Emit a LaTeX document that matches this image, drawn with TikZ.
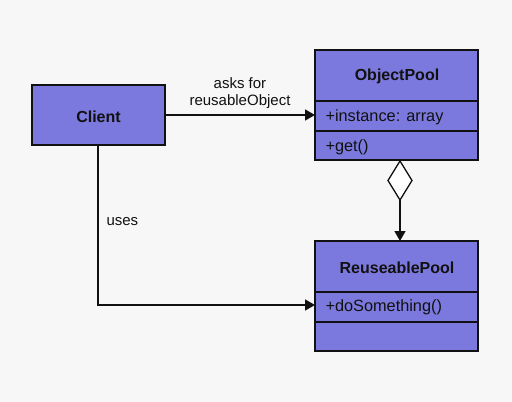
\documentclass[tikz,border=0pt]{standalone}
\usepackage{fontspec}
\setmainfont{Liberation Sans}
\usetikzlibrary{arrows.meta}
\definecolor{bg}{HTML}{F7F7F7}
\definecolor{boxfill}{HTML}{7B79DD}
\definecolor{ink}{HTML}{111111}
\begin{document}
\begin{tikzpicture}[x=1pt,y=-1pt,
  box/.style={draw=ink,line width=1.2pt,fill=boxfill},
  conn/.style={draw=ink,line width=1.7pt,-{Triangle[length=10pt,width=11pt]}},
  title/.style={font=\bfseries\fontsize{16}{18}\selectfont,text=ink},
  attr/.style={font=\fontsize{16.3}{18}\selectfont,text=ink,anchor=west},
  lbl/.style={font=\fontsize{15}{17}\selectfont,text=ink}]
\fill[bg] (0,0) rectangle (512,402);
\useasboundingbox (0,0) rectangle (512,402);
% Client
\draw[box] (32,85) rectangle (165,145);
\node[title] (client) at (98.5,116.5) {Client};
\coordinate (clientR) at (165,115);
\coordinate (clientB) at (98,145);
% ObjectPool
\draw[box] (315,50) rectangle (478,160);
\draw[ink,line width=1.2pt] (315,101) -- (478,101);
\draw[ink,line width=1.2pt] (315,131) -- (478,131);
\node[title] (op) at (397,76.5) {ObjectPool};
\node[attr] (opa) at (322,117) {+instance: array};
\node[attr] (opm) at (322,147) {+get()};
\coordinate (opL) at (315,115);
% ReuseablePool
\draw[box] (315,241) rectangle (478,351);
\draw[ink,line width=1.2pt] (315,292) -- (478,292);
\draw[ink,line width=1.2pt] (315,322) -- (478,322);
\node[title] (rp) at (397,268) {ReuseablePool};
\node[attr] (rpm) at (322,307.5) {+doSomething()};
\coordinate (rpT) at (400,241);
\coordinate (rpL) at (315,305);
% diamond
\coordinate (dT) at (400,161);
\coordinate (dB) at (400,200);
\draw[ink,line width=1.3pt,fill=white,line join=miter] (dT) -- (412,180.5) -- (dB) -- (388,180.5) -- cycle;
% connectors
\draw[conn] (clientR) -- (opL);
\node[lbl,align=center] (asks) at (240,93) {asks for\\reusableObject};
\draw[conn] (dB) -- (rpT);
\draw[conn] (clientB) |- (rpL);
\node[lbl,anchor=west] (uses) at (103,222) {uses};
\end{tikzpicture}
\end{document}
